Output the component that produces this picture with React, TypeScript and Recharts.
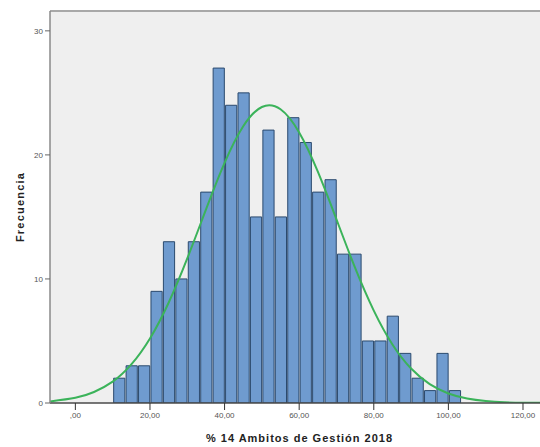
import React from 'react';
import {
  ComposedChart,
  Bar,
  Line,
  XAxis,
  YAxis,
  CartesianGrid,
  ReferenceLine,
  Label,
} from 'recharts';

// Histogram bins: 28 bins of width 10/3 starting at 10
const binStart = 10;
const binWidth = 10 / 3;
const counts = [2, 3, 3, 9, 13, 10, 13, 17, 27, 24, 25, 15, 22, 15, 23, 21, 17, 18, 12, 12, 5, 5, 7, 4, 2, 1, 4, 1];

// Fitted normal curve (frequency scale)
const curveX = [-6.8, 0, 5, 10, 15, 20, 25, 30, 35, 40, 45, 50, 55, 60, 65, 70, 75, 80, 85, 90, 95, 100, 105, 110, 115, 120, 125.9];
const curveY = [0.13, 0.42, 0.89, 1.72, 3.11, 5.2, 8.08, 11.65, 15.59, 19.36, 22.31, 23.86, 23.68, 21.81, 18.65, 14.8, 10.89, 7.45, 4.72, 2.78, 1.52, 0.77, 0.36, 0.16, 0.06, 0.02, 0.01];

const xTicks = [0, 20, 40, 60, 80, 100, 120];
const xTickLabels = [',00', '20,00', '40,00', '60,00', '80,00', '100,00', '120,00'];
const yTicks = [0, 10, 20, 30];

const xMin = -6.8;
const xMax = 125.9;
const yMax = 31.6;

const W = 545;
const H = 447;
const LEFT = 50;
const FONT = '"Liberation Sans", Arial, sans-serif';

export default function App() {
  const bars = counts.map((c, i) => ({ x: binStart + binWidth * (i + 0.5), count: c }));
  const curve = curveX.map((x, i) => ({ x, normal: curveY[i] }));
  const barPx = (binWidth * (W - LEFT)) / (xMax - xMin);

  return (
    <div style={{ position: 'absolute', left: 0, top: 0, width: 540, height: 447, overflow: 'hidden', background: '#fff' }}>
      <ComposedChart
        width={W}
        height={H}
        data={bars}
        margin={{ top: 11, right: 0, bottom: 0, left: 0 }}
        barGap={0}
        barCategoryGap={0}
      >
        <CartesianGrid horizontal={false} vertical={false} fill="#efefef" />
        <XAxis
          type="number"
          dataKey="x"
          domain={[xMin, xMax]}
          allowDataOverflow
          ticks={xTicks}
          tickFormatter={(v) => xTickLabels[xTicks.indexOf(v)]}
          height={44}
          tickSize={7}
          tickMargin={2}
          axisLine={{ stroke: '#4a4a4a', strokeWidth: 1.5 }}
          tickLine={{ stroke: '#333' }}
          tick={{ fontSize: 8, fill: '#555', fontFamily: FONT }}
        >
          <Label
            content={({ viewBox }: any) => (
              <text
                x={viewBox.x + viewBox.width / 2 + 2}
                y={viewBox.y + 35}
                textAnchor="middle"
                dominantBaseline="central"
                fontSize={11}
                fontWeight="bold"
                letterSpacing={1}
                fill="#222"
                fontFamily={FONT}
              >
                % 14 Ambitos de Gestión 2018
              </text>
            )}
          />
        </XAxis>
        {/* separate hidden axis so the curve points don't shrink the bar band */}
        <XAxis xAxisId="curve" type="number" dataKey="x" domain={[xMin, xMax]} allowDataOverflow hide />
        <YAxis
          type="number"
          domain={[0, yMax]}
          allowDataOverflow
          ticks={yTicks}
          width={LEFT}
          tickSize={5}
          tickMargin={2}
          axisLine={{ stroke: '#8a8a8a', strokeWidth: 1.5 }}
          tickLine={{ stroke: '#666' }}
          tick={{ fontSize: 8, fill: '#555', fontFamily: FONT }}
        >
          <Label
            content={({ viewBox }: any) => {
              const cx = 20;
              const cy = viewBox.y + viewBox.height / 2;
              return (
                <text
                  x={cx}
                  y={cy}
                  transform={`rotate(-90, ${cx}, ${cy})`}
                  textAnchor="middle"
                  dominantBaseline="central"
                  fontSize={11}
                  fontWeight="bold"
                  letterSpacing={1.2}
                  fill="#222"
                  fontFamily={FONT}
                >
                  Frecuencia
                </text>
              );
            }}
          />
        </YAxis>
        <ReferenceLine y={yMax} stroke="#a8a8a8" strokeWidth={2} />
        <Bar
          dataKey="count"
          fill="#6f9bcf"
          stroke="#2b4a6e"
          strokeWidth={1}
          barSize={barPx}
          isAnimationActive={false}
        />
        <Line
          xAxisId="curve"
          data={curve}
          dataKey="normal"
          type="natural"
          stroke="#3bb35a"
          strokeWidth={2}
          dot={false}
          isAnimationActive={false}
        />
      </ComposedChart>
    </div>
  );
}
